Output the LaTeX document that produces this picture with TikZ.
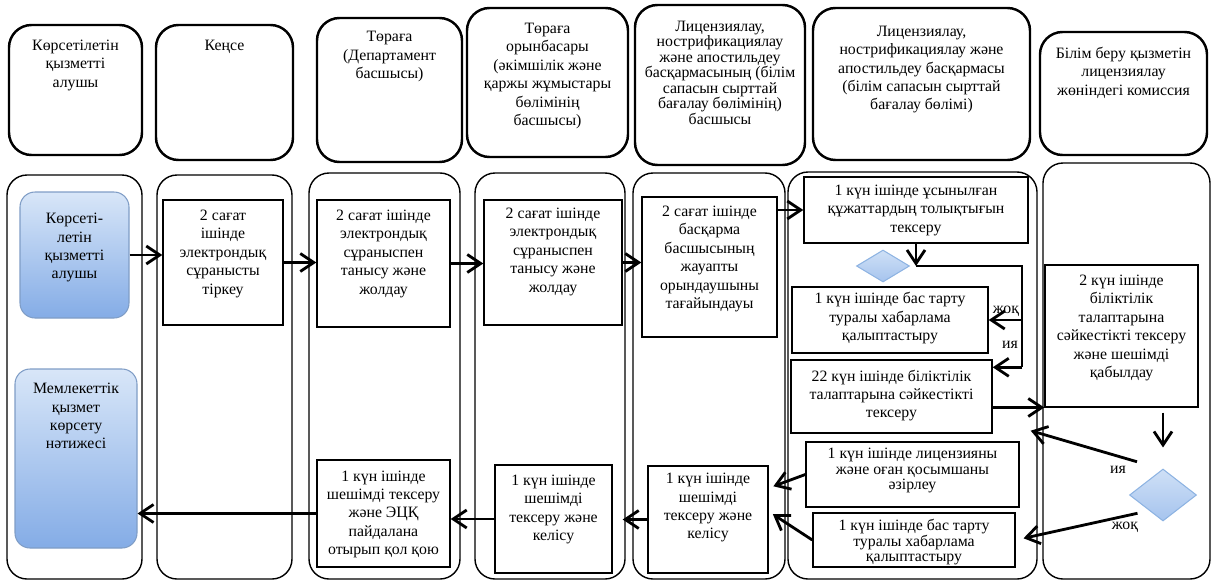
\documentclass[tikz,border=0pt]{standalone}
\usepackage{fontspec}
\setmainfont{Liberation Serif}
\usetikzlibrary{arrows.meta,shapes.geometric}
\newlength\pxu \setlength\pxu{0.02cm}
\newcommand{\tb}[4][11pt]{\parbox[c][#3\pxu][t]{#2\pxu}{\centering\rule{0pt}{#1}#4\par}}
\definecolor{blueTop}{HTML}{D8E6F8}
\definecolor{blueBot}{HTML}{84ACE6}
\definecolor{blueLine}{HTML}{7F9DC6}
\definecolor{gateTop}{HTML}{CFE0F6}
\definecolor{gateBot}{HTML}{A6C4EE}
\definecolor{gateLine}{HTML}{8DB3E2}
\tikzset{
  every node/.style={font=\fontsize{9}{10.5}\selectfont},
  hdr/.style={draw,line width=1.4pt,rounded corners=0.45cm,inner sep=0pt},
  lane/.style={draw,line width=0.8pt,rounded corners=0.4cm},
  proc/.style={draw,line width=0.8pt,inner sep=0pt},
  who/.style={draw=blueLine,line width=0.6pt,rounded corners=0.3cm,top color=blueTop,bottom color=blueBot,inner sep=0pt},
  gate/.style={diamond,draw=gateLine,line width=0.6pt,top color=gateTop,bottom color=gateBot,inner sep=0pt},
  arr/.style={line width=1.6pt,-{Straight Barb[length=0.27cm,width=0.36cm]}},
  tight/.style={font=\fontsize{9}{8.8}\selectfont}
}
\begin{document}
\begin{tikzpicture}[x=0.02cm,y=-0.02cm]
\useasboundingbox (0,0) rectangle (1214,582);
\foreach \l/\r/\t in {7/142/175,157/292/175,309/460/173,475/625/173,633/785/173,788/1037/172,1043/1210/163} % edit here for the lanes
\draw[lane] (\l,\t) rectangle (\r,579);
% headers
\node[hdr] (h1) at (75.5,90) {\tb[14.5pt]{133}{130}{Көрсетілетін\\қызметті\\алушы}};
\node[hdr] (h2) at (224.5,92.5) {\tb[14.5pt]{137}{135}{Кеңсе}};
\node[hdr] (h3) at (389.5,90) {\tb[13.5pt]{145}{144}{Төраға\\(Департамент\\басшысы)}};
\node[hdr] (h4) at (547.5,82.5) {\tb[14.5pt]{161}{149}{Төраға\\орынбасары\\(әкімшілік және\\қаржы жұмыстары\\бөлімінің\\басшысы)}};
\node[hdr,tight] (h5) at (720,85) {\tb[15pt]{170}{160}{Лицензиялау,\\нострификациялау\\және апостильдеу\\басқармасының (білім\\сапасын сырттай\\бағалау бөлімінің)\\басшысы}};
\node[hdr] (h6) at (921.5,84) {\tb[16pt]{217}{152}{Лицензиялау,\\нострификациялау және\\апостильдеу басқармасы\\(білім сапасын сырттай\\бағалау бөлімі)}};
\node[hdr] (h7) at (1123.5,93.5) {\tb[15pt]{167}{123}{Білім беру қызметін\\лицензиялау\\жөніндегі комиссия}};
% steps
\node[who] (req) at (74.5,255) {\tb[18pt]{109}{126}{Көрсеті-\\летін\\қызметті\\алушы}};
\node[who] (out) at (76,458.5) {\tb[14pt]{122}{179}{Мемлекеттік\\қызмет\\көрсету\\нәтижесі}};
\node[proc] (reg) at (223,262.5) {\tb[11.5pt]{120}{125}{2 сағат\\ішінде\\электрондық\\сұранысты\\тіркеу}};
\node[proc] (acq1) at (383.5,263.5) {\tb[11.5pt]{133}{127}{2 сағат ішінде\\электрондық\\сұраныспен\\танысу және\\жолдау}};
\node[proc] (acq2) at (553,262.5) {\tb[10.5pt]{138}{125}{2 сағат ішінде\\электрондық\\сұраныспен\\танысу және\\жолдау}};
\node[proc] (exec) at (709.5,267) {\tb{135}{140}{2 сағат ішінде\\басқарма\\басшысының\\жауапты\\орындаушыны\\тағайындауы}};
\node[proc] (chk) at (916,210) {\tb[10.5pt]{224}{66}{1 күн ішінде ұсынылған\\құжаттардың толықтығын\\тексеру}};
\node[gate,minimum width=1.06cm,minimum height=0.64cm] (dm1) at (883,266) {};
\node[proc] (rej1) at (890,320) {\tb[9.5pt]{196}{66}{1 күн ішінде бас тарту\\туралы хабарлама\\қалыптастыру}};
\node[proc] (ok) at (891.5,396.5) {\tb[12pt]{201}{73}{22 күн ішінде біліктілік\\талаптарына сәйкестікті\\тексеру}};
\node[proc] (dec) at (1121.5,336) {\tb[11.5pt]{153}{142}{2 күн ішінде\\біліктілік\\талаптарына\\сәйкестікті тексеру\\және шешімді\\қабылдау}};
\node[gate,minimum width=1.34cm,minimum height=1.04cm] (dm2) at (1163,495) {};
\node[proc,tight] (lic) at (912.5,474.5) {\tb[9.5pt]{213}{65}{1 күн ішінде лицензияны\\және оған қосымшаны\\әзірлеу}};
\node[proc,tight] (rej2) at (914,540) {\tb[10pt]{202}{54}{1 күн ішінде бас тарту\\туралы хабарлама\\қалыптастыру}};
\node[proc] (agr5) at (708,519.5) {\tb[10pt]{120}{107}{1 күн ішінде\\шешімді\\тексеру және\\келісу}};
\node[proc] (agr4) at (553.5,519) {\tb[11.5pt]{117}{108}{1 күн ішінде\\шешімді\\тексеру және\\келісу}};
\node[proc] (sign) at (383.5,513.5) {\tb[12pt]{133}{107}{1 күн ішінде\\шешімді тексеру\\және ЭЦҚ\\пайдалана\\отырып қол қою}};
% arrows
\draw[arr] (req.east) -- (req.east -| reg.west);
\draw[arr] (reg.east) -- (reg.east -| acq1.west);
\draw[arr] (acq1.east) -- (acq1.east -| acq2.west);
\draw[arr] (acq2.east) -- (acq2.east -| exec.west);
\draw[arr] (exec.east |- chk.west) -- (chk.west);
\draw[arr] (chk.south) -- (chk.south |- dm1.east);
\coordinate (turn) at (1022,266);
\coordinate (yes1) at ([yshift=-0.16cm]ok.north east);
\draw[line width=1.6pt] (chk.south |- dm1.east) -- (turn) -- (turn |- yes1);
\draw[arr] (turn |- rej1.east) -- (rej1.east);
\draw[arr] (turn |- yes1) -- (yes1);
\node (no1) at (1006,311) {жоқ};
\node (ya1) at (1010,345) {ия};
\coordinate (okout) at ([yshift=-0.22cm]ok.east);
\draw[arr] (okout) -- (okout -| dec.west);
\draw[arr,shorten <=0.1cm,shorten >=0.42cm] (dec.south -| dm2.north) -- (dm2.north);
\coordinate (yesfrom) at ([shift={(-0.18cm,0.4cm)}]dm2.north west);
\coordinate (yesto) at ([shift={(0.76cm,0.06cm)}]ok.south east);
\draw[arr] (yesfrom) -- (yesto);
\node (ya2) at (1118,470) {ия};
\coordinate (nofrom) at ([shift={(-0.17cm,-0.1cm)}]dm2.south west);
\draw[arr,shorten >=0.16cm] (nofrom) -- (rej2.east);
\node (no2) at (1125,527) {жоқ};
\draw[arr,shorten >=0.1cm] (lic.west) -- ([yshift=0.63cm]agr5.east);
\draw[arr,shorten >=0.1cm] (rej2.west) -- ([yshift=0.16cm]agr5.east);
\draw[arr,shorten >=0.2cm] (agr5.west) -- (agr5.west -| agr4.east);
\draw[arr] (agr4.west) -- (agr4.west -| sign.east);
\draw[arr] (sign.west) -- (sign.west -| out.east);
\end{tikzpicture}
\end{document}
